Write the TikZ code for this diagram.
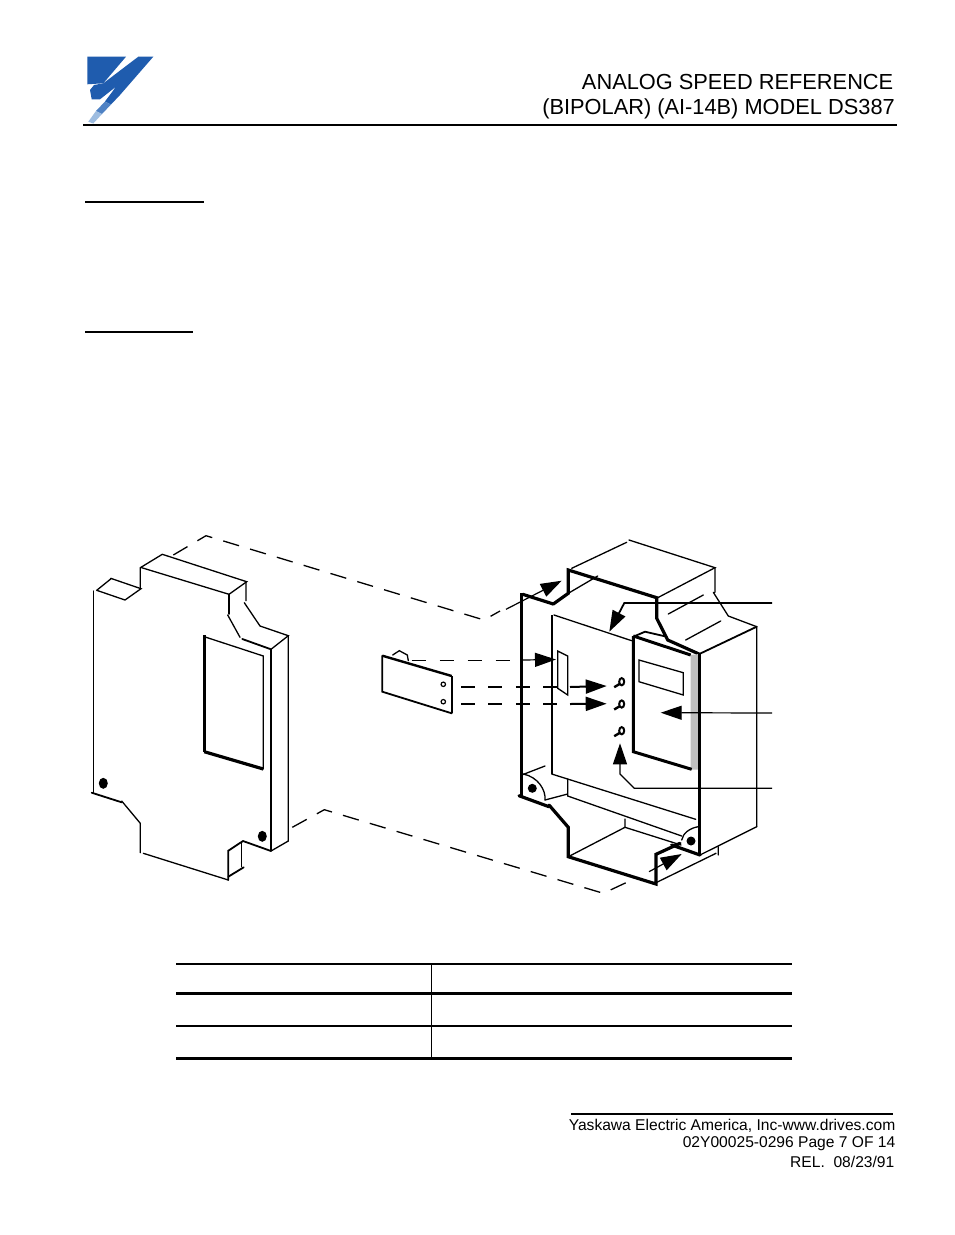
\documentclass[tikz,border=0pt]{standalone}
\usepackage{fontspec}
\setmainfont{Liberation Sans}
\usetikzlibrary{arrows.meta}
\tikzset{
 thinl/.style={line width=1.3pt,line cap=round},
 medl/.style={line width=1.8pt,line cap=round},
 thickl/.style={line width=3.2pt,line cap=round},
 dashl/.style={line width=1.3pt,dash pattern=on 16.5pt off 11.5pt},
 dashc/.style={line width=1pt,dash pattern=on 14pt off 14pt},
 dashb/.style={line width=1.9pt,dash pattern=on 13.7pt off 13.7pt},
 lead/.style={line width=1.2pt,-{Triangle[length=21pt,width=14pt]}},
 leadb/.style={line width=2pt,-{Triangle[length=21pt,width=14pt]}},
 hd/.style={anchor=east,inner sep=0pt,font=\fontsize{21.8}{24}\selectfont},
 ft/.style={anchor=east,inner sep=0pt,font=\fontsize{15.6}{17}\selectfont},
 keyl/.style={line width=2pt,fill=white,draw=black}
}
\definecolor{logob}{HTML}{1F5CAE}
\definecolor{logom}{HTML}{4F82C4}
\definecolor{logol}{HTML}{9DBCE0}
\begin{document}
\begin{tikzpicture}[x=1pt,y=-1pt]
\useasboundingbox[fill=white] (0,0) rectangle (954,1235);
% logo
\fill[logob] (87.3,56.7)--(126,56.7)--(103.3,83.3)--(87.3,84.3)--cycle;
\fill[logob] (138.3,56.7)--(153.3,56.7)--(120,95)--(111,104.5)--(105,101.5)--(116,86.7)--(100,99.3)--(91.7,99.3)--(90,90)--(94,85)--(103.3,83.3)--cycle;
\fill[logom] (111,104.5)--(102,114)--(96,111)--(105,101.5)--cycle;
\fill[logol] (102,114)--(93.3,123.5)--(88.3,121.7)--(96,111)--cycle;
% header
\draw[line width=2pt] (83,125)--(897,125);
\node[hd] (h1) at (893.5,82) {ANALOG SPEED REFERENCE};
\node[hd] (h2) at (895,109.3) {(BIPOLAR) (AI-14B) MODEL DS387};
% section rules
\draw[line width=2pt] (85,202)--(204,202);
\draw[line width=2pt] (85,332)--(193,332);
% left panel
\draw[thinl] (93.7,591)--(93.7,793);
\draw[medl] (91.7,792.7)--(121.7,802.3);
\draw[thinl] (121.7,801)--(140.3,823.3)--(140.3,852.7);
\draw[thinl] (143.3,853.3)--(228.3,880);
\draw[thinl] (96.7,590.3)--(110.7,579) (110.7,578.3)--(141,588.7)--(125,600)--(96.7,590.3);
\draw[thinl] (140.3,588.7)--(140.3,567.7)--(162.3,554.3)--(246.7,581.7)--(229,594.3)--(141.7,567.7);
\draw[medl] (229,594.3)--(229,614);
\draw[thinl] (227.7,615)--(240,637.3);
\draw[medl] (242.3,639)--(271,649.3);
\draw[thinl] (246,581.7)--(246,600.7) (244.3,602.7)--(260,626)--(288.3,635.7)--(271,649.3);
\draw[thinl] (288.3,635.7)--(288.3,841)--(271,851);
\draw[line width=2.2pt] (271,649.3)--(271,851);
\draw[medl] (271,851)--(243,841)--(228.3,850.7)--(228.3,880);
\draw[thinl] (241.7,841.7)--(241.7,866.7);
\draw[medl] (228.3,876.7)--(243.7,867.3);
\draw[thickl,line cap=butt] (204.3,635)--(204.3,752.3);
\draw[thinl] (204.3,636.7)--(263.3,656)--(263.3,769);
\draw[thickl,line cap=butt] (204.3,751.7)--(263.3,769);
\fill (103.3,783.3) ellipse [x radius=4.5,y radius=5.5];
\fill (262.3,836.3) ellipse [x radius=4.5,y radius=5.5];
% dashed envelope
\draw[dashl] (173.3,555)--(206,535.7)--(484,620)--(500,611);
\draw[dashl] (292.3,827.3)--(324.3,809.7)--(603.3,893.3)--(636.7,877.7);
% card
\draw[thinl] (392.7,655)--(399.3,650.7)--(407.3,655)--(408.3,660.7);
\draw[line width=2.4pt] (382.3,655.7)--(451.7,676);
\draw[medl] (382.3,655.7)--(382.3,691.7)--(451.7,713.3);
\draw[line width=2.4pt] (451.7,676)--(451.7,713.3);
\draw[line width=1.2pt] (443.3,684.3) circle (2.2) (443.3,701.7) circle (2.2);
% housing
\draw[thinl] (571.7,568.3)--(626.7,542.3) (629,540)--(715,567.7)--(657.7,597.7);
\draw[thinl] (715,567.7)--(715,592.3) (713.3,592.3)--(728.3,616)--(756.7,626.7)--(756.7,826.7);
\draw[medl] (756.7,626.7)--(699.3,654);
\draw[thinl] (668.3,614)--(703.3,595) (685.7,640)--(720.7,621);
\draw[thickl] (553.3,604)--(522.7,594.3);
\draw[thickl] (553.3,604)--(568.3,593.3)--(568.3,570)--(656.7,597.7)--(656.7,618.3)--(667.7,640)--(699,654);
\draw[thinl] (568.3,593.3)--(597.7,576);
\draw[thickl,line cap=butt] (521.7,593)--(521.7,797);
\draw[line width=2.4pt] (551.7,615)--(551.7,774);
\draw[thinl] (554,615)--(631.7,640.7);
\fill[black!25] (690.7,655)--(699.3,654)--(699.3,769.5)--(690.7,769.5)--cycle;
\draw[line width=3pt] (633.3,636)--(690.7,655);
\draw[line width=3pt] (633.3,636)--(633.3,751.7)--(691.7,769.3);
\draw[medl] (633.3,636.7)--(645,631.7)--(666.7,636.7);
\draw[line width=3.2pt] (699.3,654)--(699.3,855);
\draw[thinl] (639,660)--(683.3,672.7)--(683.3,695)--(639,681.7)--cycle;
\draw[thinl] (557.7,651)--(567.7,656)--(567.7,695)--(557.7,688.3)--cycle;
% lower part
\draw[thinl] (521.7,775)--(545,766);
\draw[thinl] (523.3,774) .. controls (538,777) and (546,790) .. (545,800);
\fill (532.3,788.3) circle (4.5);
\draw[thickl] (519,795.7)--(549,806.7);
\draw[thinl] (545,800)--(567.7,794) (567.7,779)--(567.7,796);
\draw[thinl] (551.7,774)--(695.7,819.3) (567.7,796)--(681.7,836);
\draw[thickl] (549,805)--(568.3,827.3)--(568.3,856.7)--(656,884)--(656,854.3)--(680,843.3);
\draw[thinl] (568.3,856.7)--(625,827.3)--(681,845) (625,819)--(625,827.3);
\draw[thinl] (681.7,840) .. controls (683,833) and (690,828) .. (698.3,826.7);
\fill (691,841) circle (4.5);
\draw[thickl] (671.7,845)--(700,855);
\draw[thinl] (700,855)--(756.7,826.7);
\draw[thinl] (656,882.7)--(716,853.3) (718.3,846.7)--(718.3,855);
% keys
\foreach \kx/\ky in {621.7/681.7,621.7/704,621.7/730.7}{
  \draw[line width=2.4pt] (\kx-7.5,\ky+5.5)--(\kx,\ky+1);
  \draw[keyl] (\kx,\ky) ellipse [x radius=2.5,y radius=3.6];
}
% connectors
\coordinate (a1s) at (506,609.3); \coordinate (a1e) at (561.7,580.7);
\coordinate (aBs) at (649,871.7); \coordinate (aBe) at (681.7,854);
\draw[lead] (a1s)--(a1e);
\draw[lead] (aBs)--(aBe);
\coordinate (c0) at (411.7,660); \coordinate (c1) at (523,660); \coordinate (c1e) at (556,659.5);
\draw[dashc] (c0)--(c1);
\draw[lead] (c1)--(c1e);
\coordinate (d1) at (461,687); \coordinate (d1e) at (606.7,686);
\coordinate (d2) at (461,704); \coordinate (d2e) at (606.7,703.7);
\coordinate (d1m) at (570,687); \coordinate (d2m) at (570,704);
\draw[dashb] (d1)--(d1m); \draw[dashb] (d2)--(d2m);
\draw[leadb] (d1m)--(d1e);
\draw[leadb] (d2m)--(d2e);
\coordinate (l1) at (772,603); \coordinate (l1b) at (624.3,603); \coordinate (l1e) at (609.3,631.7);
\draw[lead,line width=1.8pt] (l1)--(l1b)--(l1e);
\coordinate (l2) at (772,713); \coordinate (l2e) at (660.7,712.7);
\draw[lead] (l2)--(l2e);
\coordinate (l3) at (772,788.3); \coordinate (l3a) at (634.3,788.3); \coordinate (l3b) at (620,774); \coordinate (l3e) at (620,743.3);
\draw[lead] (l3)--(l3a)--(l3b)--(l3e);
% table
\draw[line width=1.4pt] (176,964)--(792,964);
\draw[line width=3pt] (176,993)--(792,993);
\draw[line width=1.8pt] (176,1026)--(792,1026);
\draw[line width=3pt] (176,1058)--(792,1058);
\draw[line width=0.9pt] (431.5,964)--(431.5,1058);
% footer
\draw[line width=1.3pt] (571,1114)--(893,1114);
\node[ft] (f1) at (895.5,1125.5) {Yaskawa Electric America, Inc-www.drives.com};
\node[ft] (f2) at (895.5,1143.5) {02Y00025-0296 Page 7 OF 14};
\node[ft] (f3) at (894.5,1162) {REL.\ \ 08/23/91};
\end{tikzpicture}
\end{document}
